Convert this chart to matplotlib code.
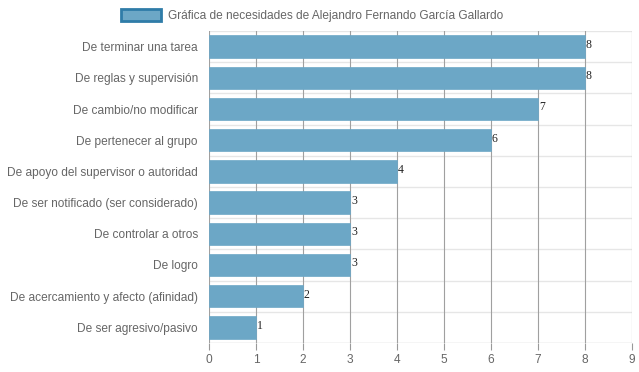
import matplotlib
matplotlib.use("Agg")
import matplotlib.pyplot as plt
from matplotlib.patches import Rectangle

categories = ["De terminar una tarea", "De reglas y supervisión", "De cambio/no modificar",
              "De pertenecer al grupo", "De apoyo del supervisor o autoridad",
              "De ser notificado (ser considerado)", "De controlar a otros", "De logro",
              "De acercamiento y afecto (afinidad)", "De ser agresivo/pasivo"]
values = [8, 8, 7, 6, 4, 3, 3, 3, 2, 1]
series_label = "Gráfica de necesidades de Alejandro Fernando García Gallardo"
xticks = list(range(0, 10))

plt.rcParams['font.family'] = ['Liberation Sans', 'DejaVu Sans']

W, H = 639, 372
fig = plt.figure(figsize=(W/100, H/100), dpi=100)
ax = fig.add_axes([209/W, 1-343/H, (632-209)/W, (343-31)/H])

n = len(categories)
ys = list(range(n))
bar_color = "#6ca7c6"
ax.barh(ys, values, height=0.72, color=bar_color, edgecolor=bar_color, linewidth=0.5, zorder=2)
ax.set_ylim(n-0.5, -0.5)
ax.set_xlim(0, 9)
ax.set_xticks(xticks)
ax.set_yticks(ys)
ax.set_yticklabels(categories)
ax.tick_params(axis='y', colors="#666666", labelsize=8.6, length=0, pad=8)
ax.tick_params(axis='x', colors="#666666", labelsize=8.6, pad=3, length=5)
ax.tick_params(axis='x', color="#999999")

# vertical grid
for x in xticks:
    ax.axvline(x, color="#a0a0a0", lw=0.8, zorder=1)
# horizontal grid between categories
for k in range(n+1):
    ax.axhline(k-0.5, color="#e6e6e6", lw=1, zorder=0)
for s in ax.spines.values():
    s.set_visible(False)
ax.axhline(n-0.5, color="#a0a0a0", lw=0.8, zorder=1)

for y, v in zip(ys, values):
    ax.text(v + 0.02, y - 0.05, str(v), fontsize=8.5, family="Liberation Serif", color="#222222",
            va="center", ha="left", zorder=3)

# legend
fig.patches.append(Rectangle((121/W, 1-21/H), 40/W, 12/H, transform=fig.transFigure,
                             facecolor=bar_color, edgecolor="#2f7ca8", linewidth=2))
fig.text(168/W, 1-15.5/H, series_label, fontsize=8.6, color="#666666", va="center", ha="left")

fig.savefig("out.png", dpi=100)
